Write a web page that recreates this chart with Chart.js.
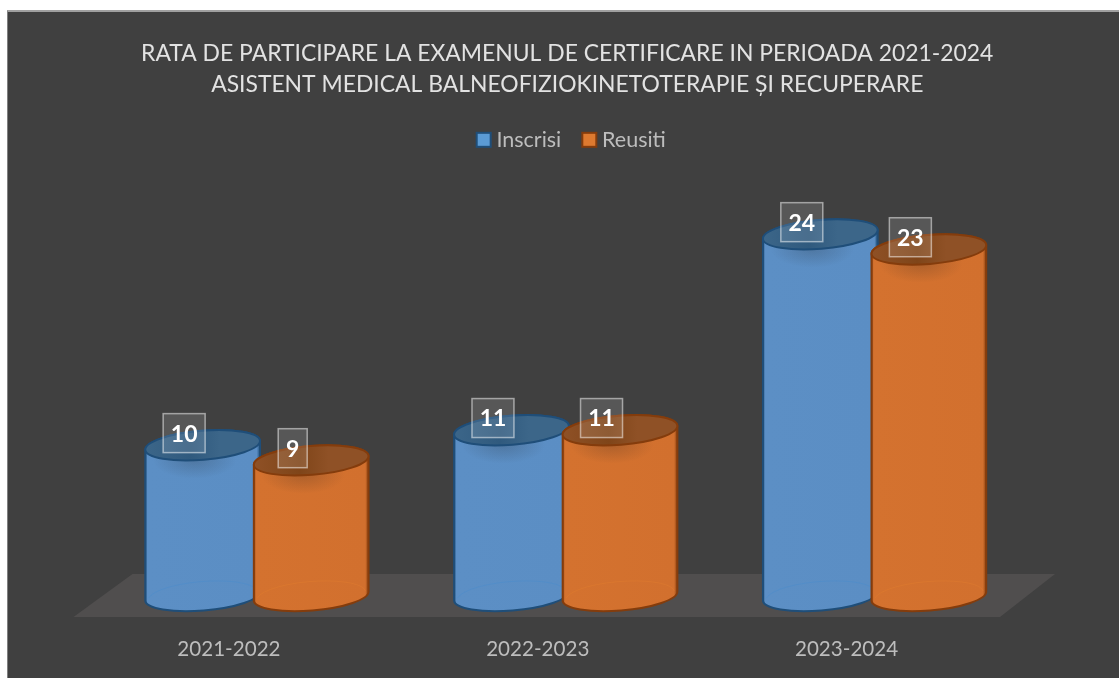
<!DOCTYPE html>
<html><head><meta charset="utf-8">
<script src="https://cdn.jsdelivr.net/npm/chart.js@4"></script>
<style>
html,body{margin:0;padding:0;background:#fff;width:1119px;height:678px;overflow:hidden}
#frame{position:absolute;left:7px;top:10px;right:0;bottom:0;background:#404040;border-top:2px solid #a0a0a0;border-left:1px solid #808080;box-sizing:border-box}
#c{position:absolute;left:0;top:0}
</style></head><body>
<div id="frame"></div><canvas id="c" width="1119" height="678"></canvas>
<script>
const categories = ['2021-2022','2022-2023','2023-2024'];
const inscrisi = [10,11,24];
const reusiti = [9,11,23];
const titleLines = ['RATA DE PARTICIPARE LA EXAMENUL DE CERTIFICARE IN PERIOADA 2021-2024','ASISTENT MEDICAL BALNEOFIZIOKINETOTERAPIE ȘI RECUPERARE'];
const FONT = 'Lato, Carlito, sans-serif';
const PAL = [
 {fill:'#5c8fc5',mid:'#5b8ec4',edge:'#1f4e79',cap:'#3c6689',capDark:'#305a7e',inner:'#4a8ccb',swatch:'#5b9bd5'},
 {fill:'#d4722f',mid:'#d2702e',edge:'#843c0c',cap:'#8f5126',capDark:'#7f4519',inner:'#e07b2e',swatch:'#dd7a30'}
];
const ROT = -4.6*Math.PI/180, RY = 14.5;

function swatch(p){
  const s=document.createElement('canvas');s.width=18;s.height=18;
  const g=s.getContext('2d');g.fillStyle=p.swatch;g.strokeStyle=p.edge;g.lineWidth=2;
  g.fillRect(2,2,14,14);g.strokeRect(2,2,14,14);return s;
}
const swatches=PAL.map(swatch);

class CylinderElement extends Chart.BarElement{
  draw(ctx){
    const {x,y,base,width}=this.getProps(['x','y','base','width']);
    const p=PAL.find(q=>q.fill===this.options.backgroundColor)||PAL[0], rx=width/2;
    const body=new Path2D();
    body.ellipse(x,base,rx,RY,ROT,Math.PI,0,true);
    body.ellipse(x,y,rx,RY,ROT,0,Math.PI,true);
    body.closePath();
    ctx.save();
    const g=ctx.createLinearGradient(x-rx,0,x+rx,0);
    g.addColorStop(0,p.edge);g.addColorStop(.02,p.fill);g.addColorStop(.97,p.mid);g.addColorStop(1,p.edge);
    ctx.fillStyle=g;ctx.fill(body);
    // soft shadow below the cap
    ctx.save();ctx.clip(body);
    ctx.translate(x,y+RY);ctx.scale(1,.45);
    const r=ctx.createRadialGradient(-8,0,2,-8,0,42);
    r.addColorStop(0,'rgba(30,30,30,.2)');r.addColorStop(1,'rgba(30,30,30,0)');
    ctx.fillStyle=r;ctx.fillRect(-rx,-60,2*rx,120);
    ctx.restore();
    // rim of the bottom face seen through the body
    ctx.beginPath();ctx.ellipse(x,base,rx-3,RY,ROT,Math.PI*1.05,-0.05,false);
    ctx.strokeStyle=p.inner;ctx.lineWidth=1;ctx.globalAlpha=.5;ctx.stroke();ctx.globalAlpha=1;
    ctx.strokeStyle=p.edge;ctx.lineWidth=2;ctx.stroke(body);
    // top cap
    const cg=ctx.createLinearGradient(x-rx,0,x+rx,0);
    cg.addColorStop(0,p.cap);cg.addColorStop(.4,p.capDark);cg.addColorStop(.65,p.cap);cg.addColorStop(1,p.cap);
    ctx.beginPath();ctx.ellipse(x,y,rx,RY,ROT,0,Math.PI*2);
    ctx.fillStyle=cg;ctx.fill();ctx.strokeStyle=p.edge;ctx.lineWidth=2;ctx.stroke();
    ctx.restore();
  }
}
CylinderElement.id='cylinder';
CylinderElement.defaults=Object.assign({},Chart.BarElement.defaults);
CylinderElement.defaultRoutes=Chart.BarElement.defaultRoutes;
Chart.register(CylinderElement);
class CylinderController extends Chart.BarController{}
CylinderController.id='cylinderBar';
CylinderController.defaults=Object.assign({},Chart.BarController.defaults,{dataElementType:'cylinder'});
CylinderController.overrides=Chart.BarController.overrides;
Chart.register(CylinderController);

const scene={
  id:'scene',
  afterLayout(chart){
    const l=chart.legend; l.left+=8; l.right+=8; l.top+=3; l.bottom+=3;
    const t=chart.titleBlock; t.left+=1.5; t.right+=1.5;
  },
  beforeDatasetsDraw(chart){
    const ctx=chart.ctx,a=chart.chartArea,yb=chart.scales.y.bottom;
    ctx.save();ctx.fillStyle='#504e4e';ctx.beginPath();
    ctx.moveTo(a.left-29,yb+21);ctx.lineTo(a.right-29,yb+21);
    ctx.lineTo(a.right+26,yb-22);ctx.lineTo(a.left+30,yb-22);ctx.closePath();ctx.fill();ctx.restore();
    chart.getSortedVisibleDatasetMetas().forEach(m=>m.controller.draw());
    return false;
  },
  afterDraw(chart){
    const ctx=chart.ctx;
    chart.data.datasets.forEach((d,di)=>{
      chart.getDatasetMeta(di).data.forEach((el,i)=>{
        const t=String(d.data[i]),cx=el.x-18.5,cy=el.y-12.2;
        const w=t.length>1?42:29,h=39;
        ctx.save();
        ctx.fillStyle='rgba(255,255,255,.12)';ctx.strokeStyle='rgba(255,255,255,.5)';ctx.lineWidth=1.5;
        ctx.fillRect(cx-w/2,cy-h/2,w,h);ctx.strokeRect(cx-w/2,cy-h/2,w,h);
        ctx.fillStyle='#fff';ctx.font='bold 23px '+FONT;ctx.textAlign='center';ctx.textBaseline='middle';
        ctx.fillText(t,cx,cy+1);
        ctx.restore();
      });
    });
  }
};

new Chart(document.getElementById('c'),{
  type:'cylinderBar',
  data:{labels:categories,datasets:[
    {label:'Inscrisi',data:inscrisi,pointStyle:swatches[0],backgroundColor:PAL[0].fill,borderColor:PAL[0].edge},
    {label:'Reusiti',data:reusiti,pointStyle:swatches[1],backgroundColor:PAL[1].fill,borderColor:PAL[1].edge}
  ]},
  options:{
    responsive:false,animation:false,
    layout:{padding:{left:102.5,right:90,top:38,bottom:0}},
    datasets:{cylinderBar:{categoryPercentage:.703,barPercentage:1.06}},
    plugins:{
      tooltip:{enabled:false},
      title:{display:true,text:titleLines,color:'#e2e2e2',font:{family:FONT,size:22.9,weight:'normal',lineHeight:1.354},padding:0},
      legend:{display:true,position:'top',labels:{usePointStyle:true,pointStyleWidth:4,boxHeight:14,color:'#bdbdbd',font:{family:FONT,size:21.5},padding:26}}
    },
    scales:{
      x:{offset:true,grid:{display:false,drawTicks:false},border:{display:false},
         afterFit(s){s.height=82;},
         ticks:{color:'#bdbdbd',font:{family:FONT,size:20.6},padding:41,labelOffset:-28,maxRotation:0}},
      y:{display:false,min:0,max:29.1}
    }
  },
  plugins:[scene]
});
</script>
</body></html>
